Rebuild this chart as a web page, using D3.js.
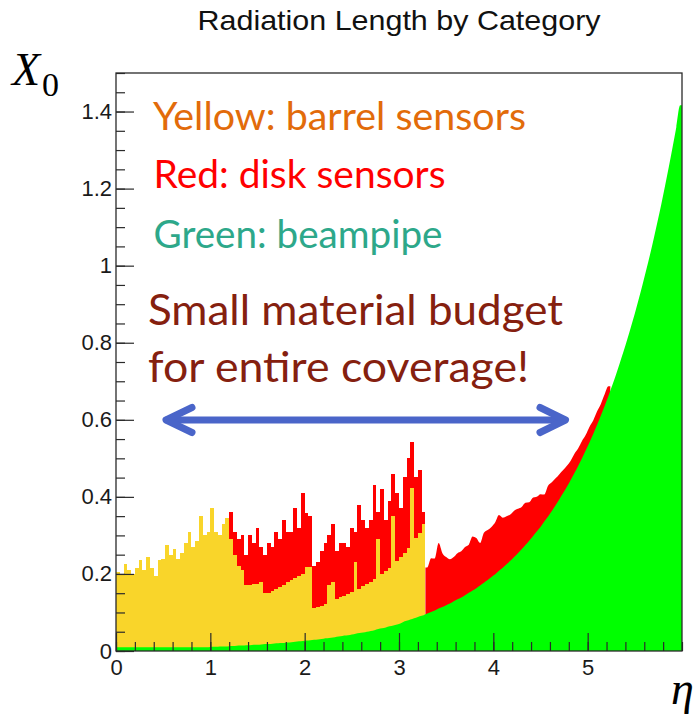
<!DOCTYPE html>
<html>
<head>
<meta charset="utf-8">
<script src="https://cdn.jsdelivr.net/npm/d3@7/dist/d3.min.js"></script>
<style>
  html, body { margin: 0; padding: 0; background: #ffffff; }
  svg { display: block; }
</style>
</head>
<body>
<svg id="chart" width="696" height="718"></svg>
<script>
// ---------------- DATA ----------------
const title = "Radiation Length by Category";
const etaRange = [0, 6];          // η axis range of the histogram
const nBins = 150;                // 0.04 wide bins
const yRange = [0, 1.5];
const xTickLabels = [0, 1, 2, 3, 4, 5];
const yTickLabels = [0, 0.2, 0.4, 0.6, 0.8, 1, 1.2, 1.4];

// Green: beampipe (bottom of the stack)
const beampipe = [
  0.010,0.010,0.010,0.010,0.010,0.010,0.010,0.010,0.010,0.010,
  0.010,0.010,0.010,0.010,0.010,0.010,0.010,0.010,0.010,0.010,
  0.010,0.010,0.010,0.010,0.010,0.011,0.011,0.012,0.012,0.012,
  0.013,0.013,0.014,0.014,0.015,0.015,0.016,0.016,0.017,0.018,
  0.018,0.019,0.020,0.021,0.021,0.022,0.023,0.024,0.025,0.026,
  0.027,0.028,0.029,0.030,0.031,0.033,0.034,0.035,0.037,0.038,
  0.040,0.041,0.043,0.045,0.047,0.048,0.050,0.052,0.054,0.057,
  0.059,0.061,0.064,0.066,0.069,0.072,0.077,0.080,0.083,0.086,
  0.090,0.093,0.097,0.101,0.105,0.110,0.114,0.119,0.123,0.129,
  0.134,0.139,0.145,0.151,0.157,0.163,0.170,0.177,0.184,0.192,
  0.199,0.208,0.216,0.225,0.234,0.244,0.254,0.264,0.275,0.286,
  0.298,0.310,0.322,0.336,0.349,0.363,0.378,0.394,0.410,0.426,
  0.444,0.462,0.481,0.500,0.521,0.542,0.564,0.587,0.611,0.636,
  0.662,0.689,0.717,0.747,0.777,0.809,0.842,0.876,0.912,0.949,
  0.988,1.028,1.070,1.114,1.159,1.207,1.256,1.307,1.360,1.416
];

// Yellow: barrel sensors (stacked on the beampipe)
const barrel = [
  0.195,0.190,0.215,0.200,0.190,0.205,0.225,0.200,0.235,0.205,
  0.185,0.225,0.230,0.265,0.240,0.255,0.230,0.245,0.270,0.300,
  0.260,0.275,0.340,0.290,0.300,0.359,0.299,0.288,0.318,0.333,
  0.277,0.237,0.206,0.196,0.155,0.155,0.159,0.159,0.163,0.132,
  0.132,0.136,0.140,0.145,0.149,0.158,0.162,0.166,0.170,0.174,
  0.191,0.190,0.083,0.085,0.087,0.089,0.136,0.145,0.098,0.102,
  0.103,0.106,0.109,0.185,0.115,0.120,0.124,0.128,0.133,0.233,
  0.141,0.147,0.152,0.284,0.164,0.171,0.178,0.187,0.339,0.206,
  0.215,0.237,0,0,0,0,0,0,0,0,
  0,0,0,0,0,0,0,0,0,0,
  0,0,0,0,0,0,0,0,0,0,
  0,0,0,0,0,0,0,0,0,0,
  0,0,0,0,0,0,0,0,0,0,
  0,0,0,0,0,0,0,0,0,0,
  0,0,0,0,0,0,0,0,0,0
];

// Red: disk sensors (top of the stack)
const disks = [
  0,0,0,0,0,0,0,0,0,0,
  0,0,0,0,0,0,0,0,0,0,
  0,0,0,0,0,0,0,0,0,0,
  0.070,0.060,0.070,0.090,0.080,0.130,0.105,0.145,0.090,0.100,
  0.130,0.115,0.150,0.125,0.170,0.130,0.125,0.180,0.125,0.210,
  0.140,0.132,0.108,0.115,0.142,0.158,0.130,0.150,0.125,0.140,
  0.137,0.123,0.168,0.080,0.218,0.172,0.146,0.160,0.243,0.070,
  0.220,0.132,0.174,0.110,0.177,0.127,0.197,0.235,0.120,0.160,
  0.165,0.030,0.120,0.140,0.135,0.170,0.140,0.125,0.115,0.115,
  0.120,0.120,0.125,0.125,0.140,0.130,0.110,0.130,0.130,0.130,
  0.135,0.145,0.130,0.125,0.120,0.120,0.115,0.110,0.110,0.100,
  0.100,0.090,0.085,0.070,0.080,0.075,0.070,0.065,0.060,0.055,
  0.050,0.050,0.045,0.045,0.040,0.040,0.035,0.035,0.030,0.030,
  0.025,0,0,0,0,0,0,0,0,0,
  0,0,0,0,0,0,0,0,0,0
];

const notes = [
  { text: "Yellow: barrel sensors", color: "#E26B0A" },
  { text: "Red: disk sensors", color: "#FF0000" },
  { text: "Green: beampipe", color: "#2DA88A" },
  { text: "Small material budget", color: "#85200F" },
  { text: "for entire coverage!", color: "#85200F" }
];

// ---------------- DRAWING ----------------
const svg = d3.select("#chart");
const plot = { left: 116, right: 682, top: 73, bottom: 651 };

const x = d3.scaleLinear().domain(etaRange).range([plot.left, plot.right]);
const y = d3.scaleLinear().domain(yRange).range([plot.bottom, plot.top]);

const binW = (etaRange[1] - etaRange[0]) / nBins;
const rows = beampipe.map((g, i) => ({
  i, eta: etaRange[0] + i * binW, beampipe: g, barrel: barrel[i], disks: disks[i]
}));
rows.push(Object.assign({}, rows[rows.length - 1], { i: nBins, eta: etaRange[1] }));

const keys = ["beampipe", "barrel", "disks"];
const stacked = d3.stack().keys(keys)(rows);
const byKey = Object.fromEntries(stacked.map(s => [s.key, s]));
const fills = { beampipe: "#00FF00", barrel: "#F9D52A", disks: "#FF0000" };

// past the end of the barrel the (finely binned) disk band hugs the beampipe smoothly
const barrelEnd = d3.max(barrel.map((v, i) => v > 0 ? i : -1)) + 1;
const disksEnd = d3.max(disks.map((v, i) => v > 0 ? i : -1)) + 1;

svg.append("defs").append("clipPath").attr("id", "clip")
  .append("rect").attr("x", plot.left).attr("y", plot.top)
  .attr("width", plot.right - plot.left).attr("height", plot.bottom - plot.top);

const layer = svg.append("g").attr("clip-path", "url(#clip)");

// cumulative step areas (only where the category contributes)
const stepArea = (key, maxIdx) => d3.area()
  .curve(d3.curveStepAfter)
  .x(d => x(d.data.eta))
  .y0(y(0))
  .y1(d => y(d.data[key] > 0 && d.data.i < maxIdx ? d[1] : 0));

layer.append("path")
  .attr("d", stepArea("disks", barrelEnd)(byKey.disks))
  .attr("fill", fills.disks).attr("shape-rendering", "crispEdges");

const smoothPts = (series, i0, i1) => {
  const pts = series.slice(i0, i1).map(d => ({ eta: d.data.eta + binW / 2, v: d[1] }));
  pts.unshift({ eta: series[i0].data.eta, v: pts[0].v });
  pts.push({ eta: series[i1].data.eta, v: pts[pts.length - 1].v });
  return pts;
};
const smoothArea = d3.area().curve(d3.curveMonotoneX)
  .x(d => x(d.eta)).y0(y(0)).y1(d => y(d.v));

layer.append("path")
  .attr("d", smoothArea(smoothPts(byKey.disks, barrelEnd, disksEnd)))
  .attr("fill", fills.disks);

layer.append("path")
  .attr("d", stepArea("barrel", nBins + 1)(byKey.barrel))
  .attr("fill", fills.barrel).attr("shape-rendering", "crispEdges");

// beampipe: fine-binned in the original, so its outline is smooth
layer.append("path")
  .attr("d", smoothArea(smoothPts(byKey.beampipe, 0, nBins)))
  .attr("fill", fills.beampipe);

// Axes (ROOT style: ticks pointing inward)
const axisColor = "#2a2a2a";
const tickFont = "'Liberation Sans', Arial, Helvetica, sans-serif";

const xMinor = d3.range(0, 6.0001, 0.2).map(v => +v.toFixed(2));
const yMinor = d3.range(0, 1.5001, 0.05).map(v => +v.toFixed(2));

const gxMinor = svg.append("g").attr("transform", `translate(0,${plot.bottom})`)
  .call(d3.axisBottom(x).tickValues(xMinor).tickSize(-9).tickFormat(""));
const gx = svg.append("g").attr("transform", `translate(0,${plot.bottom})`)
  .call(d3.axisBottom(x).tickValues(xTickLabels).tickSize(-18).tickPadding(8).tickFormat(d3.format("~g")));

const gyMinor = svg.append("g").attr("transform", `translate(${plot.left},0)`)
  .call(d3.axisLeft(y).tickValues(yMinor).tickSize(-9).tickFormat(""));
const gy = svg.append("g").attr("transform", `translate(${plot.left},0)`)
  .call(d3.axisLeft(y).tickValues(yTickLabels).tickSize(-18).tickPadding(4).tickFormat(d3.format("~g")));

[gxMinor, gx, gyMinor, gy].forEach(g => {
  g.select(".domain").remove();
  g.selectAll("line").attr("stroke", axisColor).attr("stroke-width", 1.2);
  g.selectAll("text").attr("fill", "#1a1a1a")
    .style("font-family", tickFont).style("font-size", "22px");
});

// frame
svg.append("rect")
  .attr("x", plot.left).attr("y", plot.top)
  .attr("width", plot.right - plot.left).attr("height", plot.bottom - plot.top)
  .attr("fill", "none").attr("stroke", axisColor).attr("stroke-width", 1.3);

// title
svg.append("text")
  .attr("x", 399).attr("y", 30)
  .attr("text-anchor", "middle")
  .attr("textLength", 403).attr("lengthAdjust", "spacingAndGlyphs")
  .style("font-family", tickFont).style("font-size", "28px").attr("fill", "#111")
  .text(title);

// axis labels X_0 and η
const serif = "'Liberation Serif', 'DejaVu Serif', serif";
const ylab = svg.append("text").attr("x", 12).attr("y", 85)
  .style("font-family", serif).attr("fill", "#000");
ylab.append("tspan").style("font-style", "italic").style("font-size", "46px").text("X");
ylab.append("tspan").attr("x", 42).attr("y", 96).style("font-size", "34px").text("0");

svg.append("text").attr("x", 671).attr("y", 704)
  .style("font-family", serif).style("font-style", "italic").style("font-size", "46px")
  .attr("fill", "#000").text("η");

// annotations
const noteFont = "Lato, 'Open Sans', 'Noto Sans', sans-serif";
const notePos = [
  { x: 153, y: 129.5, size: 38, w: 373 },
  { x: 153.5, y: 188, size: 38, w: 292 },
  { x: 153.5, y: 248, size: 38, w: 289 },
  { x: 148, y: 325, size: 43, w: 415 },
  { x: 148, y: 382, size: 43, w: 381 }
];
svg.append("g").selectAll("text").data(notes).join("text")
  .attr("x", (d, i) => notePos[i].x).attr("y", (d, i) => notePos[i].y)
  .attr("textLength", (d, i) => notePos[i].w).attr("lengthAdjust", "spacingAndGlyphs")
  .style("font-family", noteFont)
  .style("font-size", (d, i) => notePos[i].size + "px")
  .attr("fill", d => d.color)
  .text(d => d.text);

// double-headed arrow spanning the coverage
const arrowColor = "#4A65C9";
const arrowY = 420;
const ag = svg.append("g").attr("stroke", arrowColor).attr("stroke-width", 7)
  .attr("stroke-linecap", "round").attr("stroke-linejoin", "round").attr("fill", "none");
ag.append("line").attr("x1", 167).attr("x2", 564).attr("y1", arrowY).attr("y2", arrowY);
ag.append("polyline").attr("points", `192,407.5 166,${arrowY} 192,432.5`);
ag.append("polyline").attr("points", `540,407.5 565.5,${arrowY} 540,432.5`);
</script>
</body>
</html>
